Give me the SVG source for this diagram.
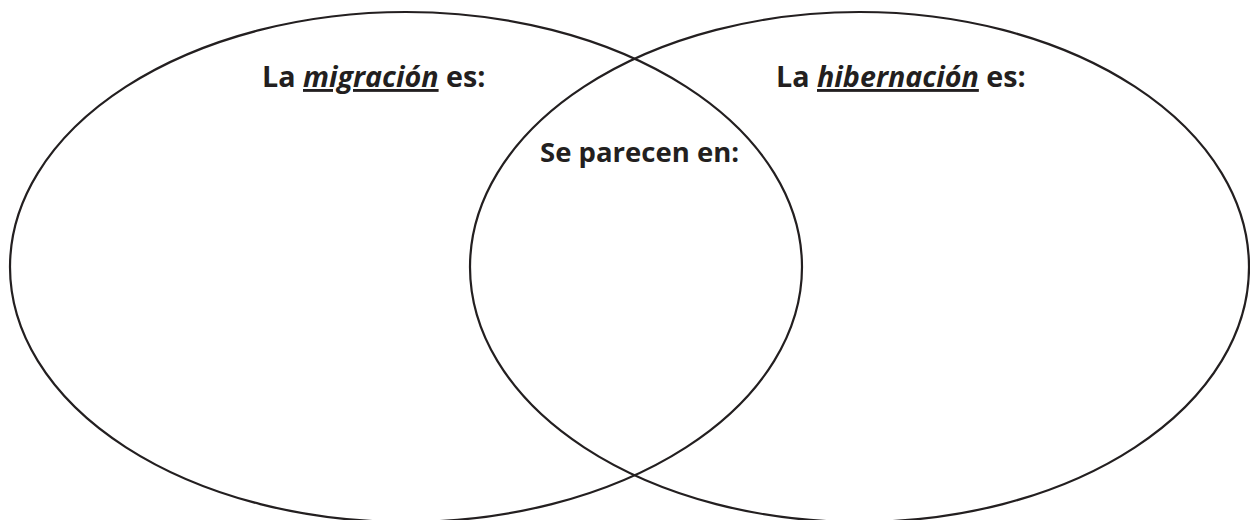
<svg xmlns="http://www.w3.org/2000/svg" width="1250" height="520" viewBox="0 0 1250 520">
<style>
.c{fill:none;stroke:#231f20;stroke-width:2.2}
.t{font-family:"Open Sans","Liberation Sans",sans-serif;font-weight:bold;font-size:27.5px;fill:#231f20}
.h{font-size:28.7px}
.u{font-style:italic;text-decoration:underline}
</style>
<rect width="1250" height="520" fill="#fff"/>
<g id="left">
<ellipse class="c" cx="406" cy="267" rx="396" ry="255"/>
<text class="t h" x="262" y="87">La <tspan class="u">migración</tspan> es:</text>
</g>
<g id="right">
<ellipse class="c" cx="859.5" cy="267" rx="389.5" ry="255"/>
<text class="t h" x="776" y="87">La <tspan class="u">hibernación</tspan> es:</text>
</g>
<g id="middle">
<text class="t" x="540" y="162">Se parecen en:</text>
</g>
<g id="connectors"/>
</svg>
